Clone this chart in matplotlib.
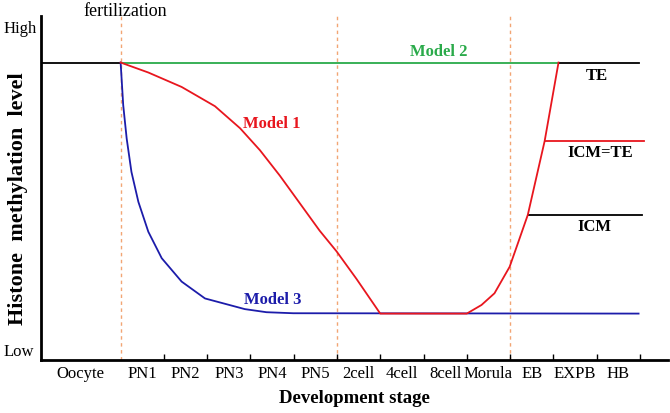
import matplotlib.pyplot as plt

plt.rcParams['font.family'] = ['Liberation Serif', 'DejaVu Serif']

# stage labels along the x axis (label centres, tick units)
stages = ['Oocyte', 'PN1', 'PN2', 'PN3', 'PN4', 'PN5', '2cell', '4cell',
          '8cell', 'Morula', 'EB', 'EXPB', 'HB']
stage_pos = [-0.92, 0.5, 1.5, 2.5, 3.5, 4.5, 5.5, 6.5, 7.5, 8.5, 9.5, 10.5, 11.5]
tick_pos = [1, 2, 3, 4, 5, 6, 7, 8, 9, 10, 11, 12]
boundaries = [0, 5, 9]  # fertilization, PN5/2cell, Morula/EB

# oocyte level before fertilization
oocyte_x = [-1.84, 0]
oocyte_y = [86.5, 86.5]

# Model 2: stays high until blastocyst
m2_x = [0, 10.12]
m2_y = [86.5, 86.5]

# Model 1: gradual loss, low plateau, then re-gain
m1_x = [0, 0.64, 1.41, 2.18, 2.76, 3.22, 3.68, 4.14, 4.6, 4.99, 5.45, 6.0,
        8.0, 8.34, 8.64, 8.99, 9.18, 9.41, 9.8, 10.12]
m1_y = [86.5, 83.6, 79.4, 73.8, 67.4, 61.0, 53.6, 45.6, 37.6, 31.6, 23.6, 13.5,
        13.5, 16.0, 19.4, 27.1, 33.9, 42.2, 63.7, 86.5]

# Model 3: rapid loss right after fertilization
m3_x = [0, 0.06, 0.14, 0.25, 0.41, 0.64, 0.95, 1.41, 1.95, 2.87, 3.37, 3.99, 11.97]
m3_y = [86.5, 74.1, 64.4, 54.7, 46.0, 37.3, 29.6, 22.8, 17.9, 14.8, 13.9, 13.6, 13.5]

# blastocyst lineages
te_x, te_y = [10.12, 11.97], [86.5, 86.5]
icmte_x, icmte_y = [9.8, 12.09], [63.7, 63.7]
icm_x, icm_y = [9.41, 12.04], [42.2, 42.2]

red = '#E8161E'
green = '#2AAA4A'
blue = '#1C1CAA'
orange = '#F2A574'

fig = plt.figure(figsize=(6.70, 4.13), dpi=100)
ax = fig.add_axes([0.0612, 0.1283, 0.9358, 0.8327])

for b in boundaries:
    ax.axvline(b, color=orange, lw=1.0, ls=(0, (2.5, 2.5)), zorder=1)

ax.plot(oocyte_x, oocyte_y, color='black', lw=1.3, zorder=3)
ax.plot(m2_x, m2_y, color=green, lw=1.3, zorder=3)
ax.plot(m3_x, m3_y, color=blue, lw=1.3, zorder=3, solid_joinstyle='round')
ax.plot(m1_x, m1_y, color=red, lw=1.3, zorder=4, solid_joinstyle='round')
ax.plot(te_x, te_y, color='black', lw=1.3, zorder=3)
ax.plot(icmte_x, icmte_y, color=red, lw=1.3, zorder=3)
ax.plot(icm_x, icm_y, color='black', lw=1.3, zorder=3)

bold = dict(fontsize=12, fontweight='bold', ha='center', va='center')
ax.text(3.49, 68.6, 'Model 1', color=red, **bold)
ax.text(7.35, 89.5, 'Model 2', color=green, **bold)
ax.text(3.52, 17.4, 'Model 3', color=blue, **bold)
ax.text(11.0, 82.6, 'TE', color='black', **bold)
ax.text(11.09, 60.2, 'ICM=TE', color='black', **bold)
ax.text(10.95, 38.7, 'ICM', color='black', **bold)

ax.text(0.1, 101.3, 'fertilization', fontsize=13, ha='center', va='center', clip_on=False)
ax.text(-2.32, 96.2, 'High', fontsize=12, ha='center', va='center', clip_on=False)
ax.text(-2.35, 2.3, 'Low', fontsize=12, ha='center', va='center', clip_on=False)

ax.set_xlim(-1.84, 12.65)
ax.set_ylim(0, 100)
ax.spines['top'].set_visible(False)
ax.spines['right'].set_visible(False)
ax.spines['left'].set_linewidth(2)
ax.spines['bottom'].set_linewidth(2)

ax.set_yticks([])
ax.set_xticks(tick_pos)
ax.set_xticklabels([])
ax.tick_params(axis='x', which='major', direction='in', length=4, width=1)
ax.set_xticks(stage_pos, minor=True)
ax.set_xticklabels(stages, minor=True, fontsize=12)
ax.tick_params(axis='x', which='minor', length=0, pad=4)

ax.set_xlabel('Development stage', fontsize=13.5, fontweight='bold', labelpad=6)
fig.text(18 / 670, 1 - 199 / 413, 'Histone  methylation  level', fontsize=16,
         fontweight='bold', rotation=90, ha='center', va='center')

fig.savefig('out.png', dpi=100)
